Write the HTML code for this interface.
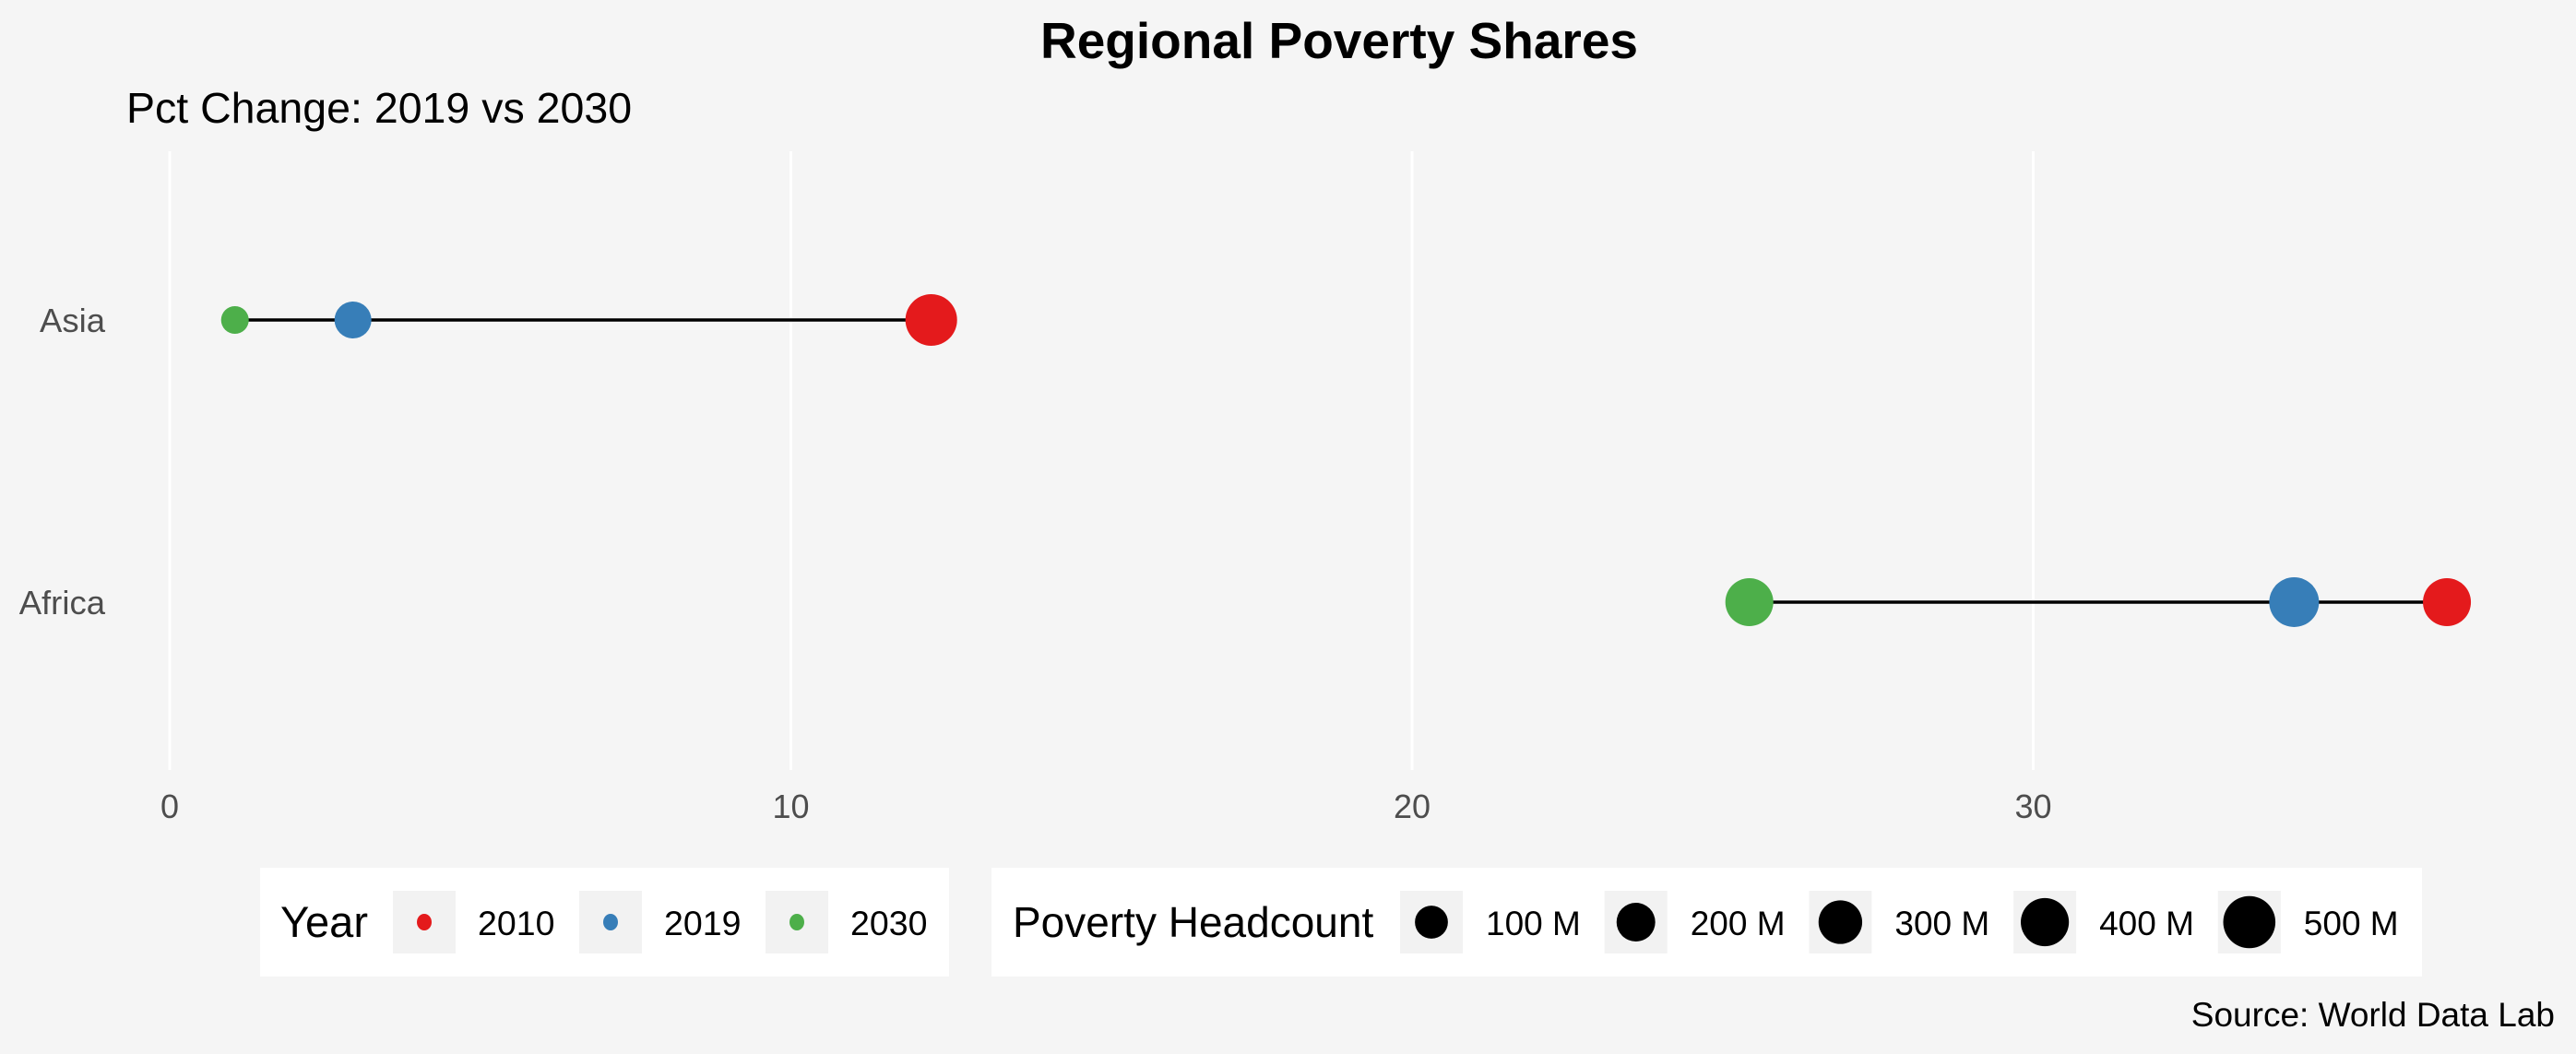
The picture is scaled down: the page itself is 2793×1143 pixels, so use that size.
<!DOCTYPE html>
<html><head><meta charset="utf-8"><style>
html,body{margin:0;padding:0;background:#f5f5f5;}
svg{display:block;font-family:"Liberation Sans",Arial,sans-serif;}
</style></head><body>
<svg id="chart" width="2793" height="1143" viewBox="0 0 2793 1143" xmlns="http://www.w3.org/2000/svg">
<rect width="2793" height="1143" fill="#f5f5f5"/>
<text x="1452" y="63" text-anchor="middle" font-size="55" font-weight="bold" fill="#000">Regional Poverty Shares</text>
<text x="137" y="133" font-size="46.5" fill="#000">Pct Change: 2019 vs 2030</text>
<g id="grid"></g>
<g id="yaxis"></g>
<g id="xaxis"></g>
<g id="marks"></g>
<g id="legend-year">
<rect x="282" y="941" width="747" height="118" fill="#fff"/>
<text x="304" y="1016" font-size="47" fill="#000">Year</text>
</g>
<g id="legend-size">
<rect x="1075" y="941" width="1551" height="118" fill="#fff"/>
<text x="1098" y="1016" font-size="46" fill="#000">Poverty Headcount</text>
</g>
<text x="2770" y="1113" text-anchor="end" font-size="37" fill="#000">Source: World Data Lab</text>
</svg>
<script>
const regions = ["Asia", "Africa"];
const years = ["2010", "2019", "2030"];
const yearColors = ["#e41a1c", "#377eb8", "#4daf4a"];
const asiaShare = [12.26, 2.95, 1.05];
const africaShare = [36.66, 34.2, 25.43];
const asiaHeadcount = [487, 167, 21];
const africaHeadcount = [397, 440, 397];
const xTicks = [0, 10, 20, 30];
const sizeBreaks = [100, 200, 300, 400, 500];
const sizeLabels = ["100 M", "200 M", "300 M", "400 M", "500 M"];

const NS = "http://www.w3.org/2000/svg";
const X0 = 184, PX = 67.35;
function xScale(v){ return X0 + v * PX; }
const yPos = {"Asia": 347, "Africa": 653};
function yScale(r){ return yPos[r]; }
function rScale(v){ return Math.sqrt(200 + 1.2 * v); }
function mk(tag, attrs, parent){
  const e = document.createElementNS(NS, tag);
  for (const k in attrs) e.setAttribute(k, attrs[k]);
  parent.appendChild(e); return e;
}
const grid = document.getElementById('grid');
const xaxis = document.getElementById('xaxis');
xTicks.forEach(t => {
  const l = mk('line', {x1: xScale(t), x2: xScale(t), y1: 164, y2: 835, stroke: '#ffffff', 'stroke-width': 3}, grid);
  
  
  const tx = mk('text', {x: xScale(t), y: 887, 'text-anchor': 'middle', 'font-size': 36, fill: '#4d4d4d'}, xaxis);
  tx.textContent = t;
  
  
});
const yaxis = document.getElementById('yaxis');
regions.forEach(r => {
  const tx = mk('text', {x: 114, y: yScale(r) + 13, 'text-anchor': 'end', 'font-size': 36.5, fill: '#4d4d4d'}, yaxis);
  tx.textContent = r;
  
  
});
const marks = document.getElementById('marks');
const shares = [asiaShare, africaShare];
const heads = [asiaHeadcount, africaHeadcount];
regions.forEach((r, i) => {
  const s = shares[i];
  const ln = mk('line', {x1: xScale(Math.min(...s)), x2: xScale(Math.max(...s)), y1: yScale(r), y2: yScale(r), stroke: '#000', 'stroke-width': 3.5}, marks);
  
  
  s.forEach((v, j) => {
    const c = mk('circle', {cx: xScale(v), cy: yScale(r), r: rScale(heads[i][j]), fill: yearColors[j]}, marks);
    
    
  });
});
const ly = document.getElementById('legend-year');
years.forEach((y, j) => {
  const kx = 426 + j * 202;
  const k = mk('rect', {x: kx, y: 966, width: 68, height: 68, fill: '#f2f2f2'}, ly);
  
  
  const d = mk('ellipse', {cx: kx + 34, cy: 1000, rx: 8, ry: 9, fill: yearColors[j]}, ly);
  
  
  const t = mk('text', {x: kx + 92, y: 1014, 'font-size': 37.5, fill: '#000'}, ly);
  t.textContent = y;
  
  
});
const ls = document.getElementById('legend-size');
sizeBreaks.forEach((b, j) => {
  const kx = 1518 + j * 221.7;
  const k = mk('rect', {x: kx, y: 966, width: 68, height: 68, fill: '#f2f2f2'}, ls);
  
  
  const d = mk('circle', {cx: kx + 34, cy: 1000, r: rScale(b), fill: '#000'}, ls);
  
  
  const t = mk('text', {x: kx + 93, y: 1014, 'font-size': 37, fill: '#000'}, ls);
  t.textContent = sizeLabels[j];
  
  
});
</script>
</body></html>
